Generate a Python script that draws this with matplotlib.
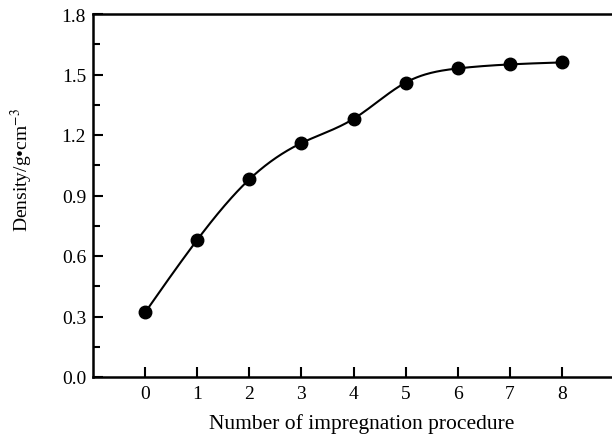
import numpy as np
import matplotlib
matplotlib.use("Agg")
import matplotlib.pyplot as plt

# data
cycles = [0, 1, 2, 3, 4, 5, 6, 7, 8]
density = [0.32, 0.68, 0.98, 1.16, 1.28, 1.46, 1.53, 1.55, 1.56]


def natural_spline(x, y, xs):
    # plain natural cubic spline, only used to draw the smooth line
    x = np.asarray(x, float)
    y = np.asarray(y, float)
    n = len(x)
    h = np.diff(x)
    A = np.zeros((n, n))
    b = np.zeros(n)
    A[0, 0] = A[-1, -1] = 1.0
    for i in range(1, n - 1):
        A[i, i - 1] = h[i - 1]
        A[i, i] = 2 * (h[i - 1] + h[i])
        A[i, i + 1] = h[i]
        b[i] = 3 * ((y[i + 1] - y[i]) / h[i] - (y[i] - y[i - 1]) / h[i - 1])
    c = np.linalg.solve(A, b)
    out = np.empty_like(xs)
    for k, xv in enumerate(xs):
        i = min(max(np.searchsorted(x, xv) - 1, 0), n - 2)
        dx = xv - x[i]
        bi = (y[i + 1] - y[i]) / h[i] - h[i] * (2 * c[i] + c[i + 1]) / 3
        di = (c[i + 1] - c[i]) / (3 * h[i])
        out[k] = y[i] + bi * dx + c[i] * dx**2 + di * dx**3
    return out


plt.rcParams['font.family'] = ['Liberation Serif', 'DejaVu Serif']
plt.rcParams['mathtext.fontset'] = 'stix'

fig = plt.figure(figsize=(6.12, 4.35), dpi=100)
ax = fig.add_axes([93 / 612, 1 - 378 / 435, 1 - 93 / 612, (378 - 15) / 435])

xs = np.linspace(cycles[0], cycles[-1], 300)
ax.plot(xs, natural_spline(cycles, density, xs), color='black', lw=1.5)
ax.plot(cycles, density, 'o', color='black', ms=9)

ax.set_xlim(-1, 8.96)
ax.set_ylim(0, 1.8)
ax.set_xticks(cycles)
ax.set_yticks(np.arange(0, 1.81, 0.3))
ax.set_yticks(np.arange(0.15, 1.8, 0.3), minor=True)
ax.yaxis.set_major_formatter(matplotlib.ticker.FormatStrFormatter('%.1f'))
ax.tick_params(direction='in', length=7, width=1.5, labelsize=14, pad=6)
ax.tick_params(axis='y', pad=5)
ax.tick_params(which='minor', direction='in', length=5, width=1.5)
ax.spines['right'].set_visible(False)
for s in ['left', 'bottom', 'top']:
    ax.spines[s].set_linewidth(1.8)

ax.set_xlabel('Number of impregnation procedure', fontsize=15.5, labelpad=8)
ax.xaxis.set_label_coords(0.518, -0.10)
ax.set_ylabel('Density/g\u2022cm$^{-3}$', fontsize=14)
ax.yaxis.set_label_coords(-0.111, 0.573)

fig.savefig('out.png', dpi=100)
